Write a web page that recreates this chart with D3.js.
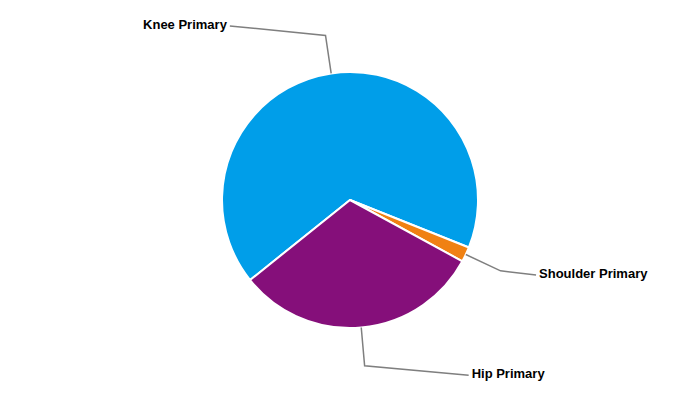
<!DOCTYPE html>
<html>
<head>
<meta charset="utf-8">
<script src="https://cdn.jsdelivr.net/npm/d3@7"></script>
<style>
  html, body { margin: 0; padding: 0; background: #fff; }
  svg { display: block; }
</style>
</head>
<body>
<div id="chart"></div>
<script>
// ---- data ----
const categories = ["Knee Primary", "Shoulder Primary", "Hip Primary"];
const values = [66.8, 1.9, 31.3];
const colors = ["#009EE9", "#F08113", "#850F7A"];

// ---- layout ----
const W = 700, H = 400;
const cx = 350, cy = 200, R = 128;
const startDeg = 231.3;

const svg = d3.select("#chart").append("svg")
  .attr("width", W).attr("height", H);

const g = svg.append("g").attr("transform", `translate(${cx},${cy})`);

const data = categories.map((c, i) => ({ name: c, value: values[i], color: colors[i] }));

const start = startDeg * Math.PI / 180;
const pie = d3.pie().value(d => d.value).sort(null)
  .startAngle(start).endAngle(start + 2 * Math.PI);
const arcs = pie(data);
const arc = d3.arc().innerRadius(0).outerRadius(R);

g.selectAll("path.slice").data(arcs).enter().append("path")
  .attr("class", "slice")
  .attr("d", arc)
  .attr("fill", d => d.data.color)
  .attr("stroke", "#fff")
  .attr("stroke-width", 2)
  .attr("stroke-linejoin", "round");

// label positions derived from slice mid-angles
const ellA = 198, ellB = 219, labR = 176, elbowR = R * 1.3;
arcs.forEach(a => {
  const m = (a.startAngle + a.endAngle) / 2;
  const sx = Math.sin(m), sy = -Math.cos(m);
  const p0 = [R * sx, R * sy];
  const p1 = [elbowR * sx, elbowR * sy];
  const ly = labR * sy;
  const side = sx >= 0 ? 1 : -1;
  const lx = side * ellA * Math.sqrt(Math.max(0, 1 - (ly * ly) / (ellB * ellB)));
  g.append("polyline")
    .attr("points", [p0, p1, [lx, ly]].map(p => p.join(",")).join(" "))
    .attr("fill", "none")
    .attr("stroke", "#7f7f7f")
    .attr("stroke-width", 1.5);
  g.append("text")
    .attr("x", lx + side * 3)
    .attr("y", ly + 3)
    .attr("text-anchor", side > 0 ? "start" : "end")
    .attr("font-family", "Liberation Sans, Arial, sans-serif")
    .attr("font-weight", "bold")
    .attr("font-size", 13)
    .attr("fill", "#000")
    .text(a.data.name);
});
</script>
</body>
</html>
